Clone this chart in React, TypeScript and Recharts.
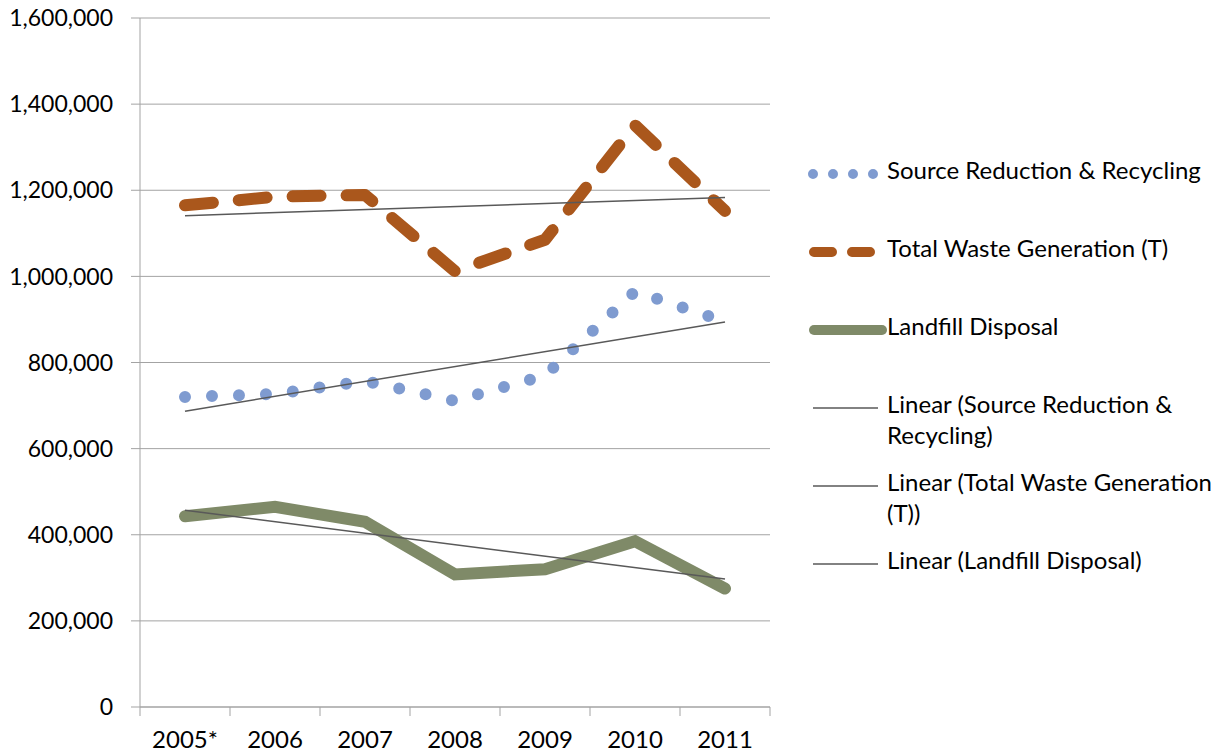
import React from "react"
import { LineChart, Line, XAxis, YAxis, CartesianGrid } from "recharts"

const years = ["2005*", "2006", "2007", "2008", "2009", "2010", "2011"]
const sourceReduction = [720000, 727000, 757000, 711000, 770000, 965000, 895000]
const totalWaste = [1165000, 1185000, 1189000, 1012000, 1085000, 1351000, 1152000]
const landfill = [443000, 465000, 430000, 308000, 320000, 385000, 275000]
const sourceTrend = [687000, null, null, null, null, null, 894000]
const totalTrend = [1141000, null, null, null, null, null, 1183000]
const landfillTrend = [457000, null, null, null, null, null, 297000]
const yTicks = [0, 200000, 400000, 600000, 800000, 1000000, 1200000, 1400000, 1600000]

const data = years.map((year, i) => ({
  year,
  source: sourceReduction[i],
  total: totalWaste[i],
  landfill: landfill[i],
  sourceTrend: sourceTrend[i],
  totalTrend: totalTrend[i],
  landfillTrend: landfillTrend[i],
}))

const FONT = "Lato, 'Open Sans', sans-serif"
const GRID = "#a3a3a3"
const BLUE = "#7f9bd0"
const RUST = "#aa571c"
const OLIVE = "#7f8a68"
const TREND = "#595959"
const HALF_BAND = 45

const XTick = ({ x, y, payload, index }: any) => (
  <g>
    <line x1={x - HALF_BAND} x2={x - HALF_BAND} y1={y} y2={y + 9} stroke={GRID} />
    {index === years.length - 1 && (
      <line x1={x + HALF_BAND} x2={x + HALF_BAND} y1={y} y2={y + 9} stroke={GRID} />
    )}
    <text x={x} y={y + 41} textAnchor="middle" fontSize={24} fontFamily={FONT} fill="#000">
      {payload.value}
    </text>
  </g>
)

const legendItems = [
  { name: "Source Reduction & Recycling", kind: "dots" },
  { name: "Total Waste Generation (T)", kind: "dash" },
  { name: "Landfill Disposal", kind: "solid" },
  { name: "Linear (Source Reduction & Recycling)", kind: "trend" },
  { name: "Linear (Total Waste Generation (T))", kind: "trend" },
  { name: "Linear (Landfill Disposal)", kind: "trend" },
]

function LegendIcon({ kind }: { kind: string }) {
  return (
    <svg width={83} height={20} style={{ flex: "none" }}>
      {kind === "dots" && (
        <line x1={9} x2={70} y1={10} y2={10} stroke={BLUE} strokeWidth={10} strokeLinecap="round" strokeDasharray="0 20" />
      )}
      {kind === "dash" && (
        <line x1={10} x2={74} y1={10} y2={10} stroke={RUST} strokeWidth={10} strokeLinecap="round" strokeDasharray="18 20" />
      )}
      {kind === "solid" && (
        <line x1={10} x2={78} y1={10} y2={10} stroke={OLIVE} strokeWidth={10} strokeLinecap="round" />
      )}
      {kind === "trend" && <line x1={9} x2={74} y1={10} y2={10} stroke={TREND} strokeWidth={1.5} />}
    </svg>
  )
}

export default function App() {
  return (
    <div style={{ position: "absolute", left: 0, top: 0, width: 1220, height: 753, background: "#fff" }}>
      <LineChart width={1220} height={753} data={data} margin={{ top: 18, right: 450, bottom: 0, left: 0 }}>
        <CartesianGrid vertical={false} stroke={GRID} />
        <XAxis
          dataKey="year"
          height={46}
          padding={{ left: HALF_BAND, right: HALF_BAND }}
          stroke={GRID}
          tickSize={0}
          tickMargin={0}
          tick={<XTick />}
          interval={0}
        />
        <YAxis
          width={140}
          domain={[0, 1600000]}
          ticks={yTicks}
          stroke={GRID}
          tickSize={9}
          tickMargin={18}
          tick={{ fontSize: 23, fontFamily: FONT, fill: "#000" }}
          tickFormatter={(v) => v.toLocaleString("en-US")}
        />
        <Line dataKey="source" name="Source Reduction & Recycling" stroke={BLUE} strokeWidth={12} strokeLinecap="round" strokeDasharray="0 27" dot={false} isAnimationActive={false} />
        <Line dataKey="total" name="Total Waste Generation (T)" stroke={RUST} strokeWidth={12} strokeLinecap="round" strokeLinejoin="round" strokeDasharray="28 26" dot={false} isAnimationActive={false} />
        <Line dataKey="landfill" name="Landfill Disposal" stroke={OLIVE} strokeWidth={12} strokeLinecap="round" dot={false} isAnimationActive={false} />
        <Line dataKey="sourceTrend" name="Linear (Source Reduction & Recycling)" stroke={TREND} strokeWidth={1.5} connectNulls dot={false} isAnimationActive={false} />
        <Line dataKey="totalTrend" name="Linear (Total Waste Generation (T))" stroke={TREND} strokeWidth={1.5} connectNulls dot={false} isAnimationActive={false} />
        <Line dataKey="landfillTrend" name="Linear (Landfill Disposal)" stroke={TREND} strokeWidth={1.5} connectNulls dot={false} isAnimationActive={false} />
      </LineChart>
      <div style={{ position: "absolute", left: 804, top: 154, width: 416, fontFamily: FONT, fontSize: 24, color: "#000" }}>
        {legendItems.map((item) => (
          <div key={item.name} style={{ display: "flex", alignItems: "flex-start", height: 78 }}>
            <div style={{ paddingTop: 6 }}>
              <LegendIcon kind={item.kind} />
            </div>
            <div style={{ lineHeight: "31px", width: 330 }}>{item.name}</div>
          </div>
        ))}
      </div>
    </div>
  )
}
